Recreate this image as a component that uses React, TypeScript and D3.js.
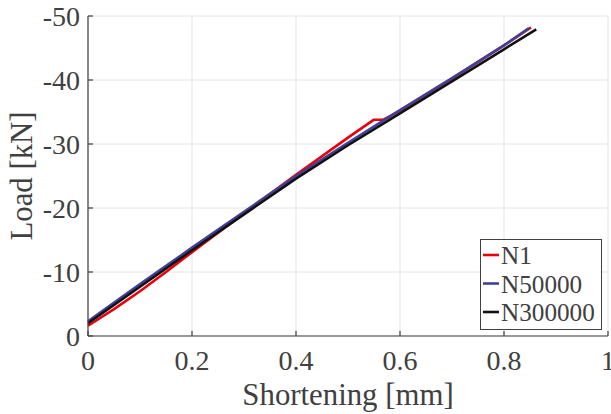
import React from "react";
import * as d3 from "d3";

const xTicks = [0, 0.2, 0.4, 0.6, 0.8, 1];
const yTicks = [0, -10, -20, -30, -40, -50];
const xTickLabels = ["0", "0.2", "0.4", "0.6", "0.8", "1"];
const yTickLabels = ["0", "-10", "-20", "-30", "-40", "-50"];

const seriesNames = ["N1", "N50000", "N300000"];
const seriesColors = ["#e8000b", "#40409a", "#111111"];

const n1X = [0, 0.05, 0.1, 0.15, 0.2, 0.3, 0.4, 0.5, 0.55, 0.568, 0.58, 0.6, 0.7, 0.8, 0.852];
const n1Y = [-1.6, -4.2, -7.0, -10.0, -13.1, -19.2, -25.2, -31.0, -33.8, -33.8, -34.3, -35.2, -40.2, -45.4, -48.2];

const n50000X = [0, 0.1, 0.2, 0.3, 0.4, 0.5, 0.6, 0.7, 0.8, 0.848];
const n50000Y = [-2.3, -8.1, -13.8, -19.4, -25.0, -30.2, -35.3, -40.3, -45.4, -48.1];

const n300000X = [0, 0.1, 0.2, 0.3, 0.4, 0.5, 0.6, 0.7, 0.8, 0.862];
const n300000Y = [-2.0, -7.7, -13.4, -19.0, -24.6, -29.8, -34.8, -39.8, -44.8, -47.9];

const seriesX = [n1X, n50000X, n300000X];
const seriesY = [n1Y, n50000Y, n300000Y];

const W = 611;
const H = 414;
const left = 88;
const right = 608;
const top = 16;
const bottom = 336;

const FONT = "'Liberation Serif', 'Times New Roman', serif";
const TXT = "#404040";

export default function App() {
  const x = d3.scaleLinear().domain([0, 1]).range([left, right]);
  const y = d3.scaleLinear().domain([0, -50]).range([bottom, top]);
  const line = d3
    .line<[number, number]>()
    .x((d) => x(d[0]))
    .y((d) => y(d[1]));

  return (
    <svg
      width={W}
      height={H}
      style={{ position: "absolute", left: 0, top: 0, background: "#fff" }}
    >
      <rect x={0} y={0} width={W} height={H} fill="#fff" />
      {xTicks.map((t, i) => (
        <line key={"gx" + i} x1={x(t)} x2={x(t)} y1={top} y2={bottom} stroke="#e4e4e4" strokeWidth={1} />
      ))}
      {yTicks.map((t, i) => (
        <line key={"gy" + i} x1={left} x2={right} y1={y(t)} y2={y(t)} stroke="#e4e4e4" strokeWidth={1} />
      ))}
      {seriesX.map((xs, si) => (
        <path
          key={"s" + si}
          d={line(xs.map((v, j) => [v, seriesY[si][j]] as [number, number])) || ""}
          fill="none"
          stroke={seriesColors[si]}
          strokeWidth={2.6}
          strokeLinejoin="round"
        />
      ))}
      <line x1={left} x2={left} y1={top} y2={bottom} stroke={TXT} strokeWidth={1.2} />
      <line x1={left} x2={right} y1={bottom} y2={bottom} stroke={TXT} strokeWidth={1.2} />
      {xTicks.map((t, i) => (
        <g key={"xt" + i}>
          <line x1={x(t)} x2={x(t)} y1={bottom} y2={bottom - 5} stroke={TXT} strokeWidth={1.2} />
          <text x={x(t)} y={370} textAnchor="middle" fontFamily={FONT} fontSize={28} fill={TXT}>
            {xTickLabels[i]}
          </text>
        </g>
      ))}
      {yTicks.map((t, i) => (
        <g key={"yt" + i}>
          <line x1={left} x2={left + 5} y1={y(t)} y2={y(t)} stroke={TXT} strokeWidth={1.2} />
          <text x={80} y={y(t) + 9.5} textAnchor="end" fontFamily={FONT} fontSize={28} fill={TXT}>
            {yTickLabels[i]}
          </text>
        </g>
      ))}
      <text x={(left + right) / 2} y={405} textAnchor="middle" fontFamily={FONT} fontSize={30.8} fill={TXT}>
        Shortening [mm]
      </text>
      <text
        transform={`translate(32, ${(top + bottom) / 2}) rotate(-90)`}
        textAnchor="middle"
        fontFamily={FONT}
        fontSize={30.8}
        fill={TXT}
      >
        Load [kN]
      </text>
      <rect x={480.5} y={239.5} width={121} height={90} fill="#fff" stroke={TXT} strokeWidth={1} />
      {seriesNames.map((n, i) => {
        const cy = 255 + i * 28.5;
        return (
          <g key={"lg" + i}>
            <line x1={483} x2={499} y1={cy} y2={cy} stroke={seriesColors[i]} strokeWidth={2.6} />
            <text x={501} y={cy + 9} fontFamily={FONT} fontSize={25.2} fill={TXT}>
              {n}
            </text>
          </g>
        );
      })}
    </svg>
  );
}
